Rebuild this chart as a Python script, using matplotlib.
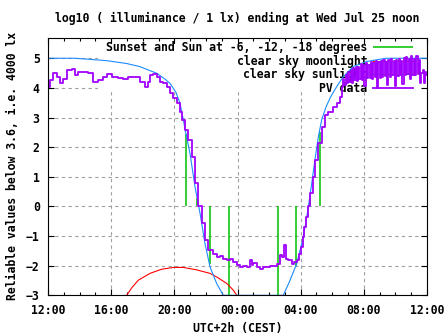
import matplotlib
matplotlib.use("Agg")
import matplotlib.pyplot as plt
from matplotlib.patches import Rectangle
from matplotlib.ticker import MultipleLocator

# hours since 12:00 on the previous day (12 .. 36)
sun_times = [20.74, 21.42, 22.26, 23.46, 26.58, 27.73, 28.56, 29.23]
sun_heights = [2.45, 0.3, -1.95, -3.0, -3.0, -2.0, 0.3, 2.5]

moon_t = [16.98, 17.3, 17.72, 18.46, 19.2, 19.94, 20.57, 21.4, 22.26, 22.68,
          23.32, 23.74, 23.95]
moon_v = [-3.0, -2.75, -2.49, -2.26, -2.12, -2.06, -2.06, -2.14, -2.26, -2.38,
          -2.6, -2.83, -3.0]

sun_t = [12.0, 13.7, 15.7, 17.0, 17.8, 18.9, 19.4, 19.73, 20.1, 20.36, 20.57,
         20.74, 20.99, 21.31, 21.63, 21.94, 22.26, 22.68, 23.1,
         26.9, 27.33, 27.75, 28.07, 28.28, 28.49, 28.7, 28.9, 29.12, 29.33,
         29.6, 29.9, 30.28, 30.7, 31.33, 32.17, 33.4, 36.0]
sun_v = [5.0, 5.0, 4.92, 4.82, 4.72, 4.49, 4.3, 4.15, 3.85, 3.48, 2.92,
         2.45, 1.79, 0.66, -0.24, -1.25, -2.04, -2.6, -3.0,
         -3.0, -2.49, -1.93, -1.25, -0.69, 0.0, 0.78, 1.56, 2.35, 2.92,
         3.35, 3.7, 4.04, 4.38, 4.72, 4.89, 5.0, 5.0]

pv_t = [12.0, 12.13, 12.34, 12.55, 12.76, 12.97, 13.18, 13.5, 13.71, 13.92,
        14.24, 14.55, 14.87, 15.19, 15.5, 15.72, 16.03, 16.45, 16.77, 17.09,
        17.4, 17.83, 18.14, 18.35, 18.46, 18.67, 18.88, 19.09, 19.3, 19.52,
        19.73, 19.94, 20.15, 20.36, 20.47, 20.68, 20.89, 21.1, 21.31, 21.52,
        21.73, 21.94, 22.15, 22.37, 22.47, 22.68, 22.89, 23.1, 23.32, 23.53,
        23.74, 23.95, 24.16, 24.37, 24.58, 24.79, 24.9, 25.0, 25.22, 25.43,
        25.64, 26.06, 26.48, 26.69, 26.8, 26.97, 27.05, 27.22, 27.43, 27.58,
        27.75, 27.92, 28.02, 28.13, 28.23, 28.34, 28.45, 28.59, 28.76, 28.91,
        29.12, 29.33, 29.54, 29.75, 30.07, 30.28, 30.49,
        30.6, 30.68, 30.76, 30.84, 30.92, 31.0, 31.08, 31.16, 31.24, 31.32,
        31.4, 31.48, 31.56, 31.64, 31.72, 31.8, 31.88, 31.96, 32.04, 32.12,
        32.2, 32.28, 32.36, 32.44, 32.52, 32.6, 32.68, 32.76, 32.84, 32.92,
        33.0, 33.08, 33.16, 33.24, 33.32, 33.4, 33.48, 33.56, 33.64, 33.72,
        33.8, 33.88, 33.96, 34.04, 34.12, 34.2, 34.28, 34.36, 34.44, 34.52,
        34.6, 34.68, 34.76, 34.84, 34.92, 35.0, 35.08, 35.16, 35.24, 35.32,
        35.4, 35.48, 35.56, 35.64, 35.72, 35.8, 35.88, 35.96]
pv_v = [4.04, 4.27, 4.49, 4.38, 4.16, 4.3, 4.6, 4.63, 4.44, 4.55,
        4.55, 4.49, 4.21, 4.27, 4.36, 4.47, 4.38, 4.32, 4.29, 4.38,
        4.38, 4.21, 4.04, 4.21, 4.44, 4.47, 4.38, 4.21, 4.16, 4.04,
        3.82, 3.65, 3.48, 3.2, 2.92, 2.58, 2.24, 1.68, 0.78, 0.0,
        -0.57, -1.14, -1.48, -1.48, -1.59, -1.7, -1.68, -1.76, -1.81, -1.79,
        -1.87, -1.98, -2.04, -2.0, -2.04, -1.81, -1.98, -1.9, -2.04, -2.1,
        -2.04, -2.02, -1.96, -1.64, -1.7, -1.3, -1.76, -1.81, -1.93, -1.88,
        -1.81, -1.59, -1.36, -1.03, -0.69, -0.35, 0.0, 0.44, 1.0, 1.56,
        2.13, 2.69, 3.08, 3.2, 3.37, 3.48, 3.7,
        4.02, 4.30, 4.10, 4.45, 4.15, 4.55, 4.20, 4.62, 4.18, 4.68,
        4.25, 4.72, 4.22, 4.70, 4.30, 4.80, 4.28, 4.76, 4.05, 4.83,
        4.32, 4.78, 4.35, 4.88, 4.30, 4.85, 4.36, 4.92, 4.00, 4.88,
        4.34, 4.90, 4.38, 4.95, 4.40, 4.86, 4.10, 4.93, 4.38, 4.97,
        4.42, 4.90, 4.05, 4.95, 4.40, 4.98, 4.44, 4.92, 4.12, 5.00,
        4.42, 5.05, 4.46, 4.96, 4.30, 5.08, 4.45, 4.98, 4.44, 5.06,
        4.48, 4.95, 4.15, 4.50, 4.62, 4.16, 4.55, 4.42]

hour_ticks = [12, 16, 20, 24, 28, 32, 36]
hour_labels = ['12:00', '16:00', '20:00', '00:00', '04:00', '08:00', '12:00']

plt.rcParams['font.family'] = 'DejaVu Sans Mono'
plt.rcParams['font.weight'] = 'bold'
plt.rcParams['axes.titleweight'] = 'bold'
plt.rcParams['axes.labelweight'] = 'bold'
plt.rcParams['font.size'] = 8.3
plt.rcParams['axes.titlesize'] = 8.3

fig = plt.figure(figsize=(4.47, 3.35), dpi=100)
fig.subplots_adjust(left=48/447, right=427/447, bottom=1-295.3/335, top=1-37.5/335)
ax = fig.add_subplot(111)

ax.vlines(sun_times, 0, sun_heights, color='#00c000', lw=1.1, zorder=2,
          label='Sunset and Sun at -6, -12, -18 degrees')
ax.plot(moon_t, moon_v, color='#ff0000', lw=0.8, zorder=2.1, label='clear sky moonlight')
ax.plot(sun_t, sun_v, color='#1a8cff', lw=0.8, zorder=2.2, label='clear sky sunlight')
ax.plot(pv_t, pv_v, color='#a100ff', lw=1.3, drawstyle='steps-post', zorder=2.3,
        label='PV data')

ax.set_xlim(12, 36)
ax.set_ylim(-3, 5.7)
ax.set_xticks(hour_ticks)
ax.set_xticklabels(hour_labels)
ax.xaxis.set_minor_locator(MultipleLocator(1))
ax.set_yticks(range(-3, 6))
ax.tick_params(which='both', direction='in', top=True, right=True)
ax.tick_params(which='major', length=4.5, width=0.8)
ax.tick_params(which='minor', length=2.5, width=0.8)
ax.tick_params(axis='x', pad=6)
ax.tick_params(axis='y', pad=6)
for s in ax.spines.values():
    s.set_linewidth(0.8)

ax.set_axisbelow(True)
ax.grid(True, which='major', color='#a0a0a0', lw=0.8, linestyle=(0, (3, 3)))

# gnuplot blanks the grid behind the key
ax.add_patch(Rectangle((0.132, 0.789), 0.852, 0.186, transform=ax.transAxes,
                       facecolor='white', edgecolor='none', zorder=0.8))

leg = ax.legend(loc='upper right', bbox_to_anchor=(0.964, 0.986), frameon=False,
                markerfirst=False, handlelength=3.5, handletextpad=0.5,
                labelspacing=0.05, borderpad=0, borderaxespad=0)
leg.set_zorder(1.5)

ax.set_title('log10 ( illuminance / 1 lx) ending at Wed Jul 25 noon', pad=11)
ax.set_xlabel('UTC+2h (CEST)', labelpad=4)
ax.set_ylabel('Reliable values below 3.6, i.e. 4000 lx', labelpad=5)

fig.savefig('out.png', dpi=100)
